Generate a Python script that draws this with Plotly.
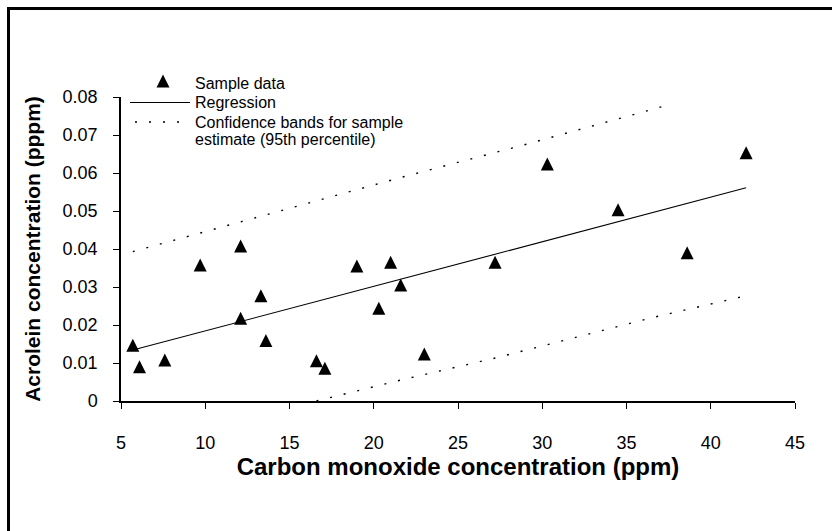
import plotly.graph_objects as go

# Measured acrolein vs. carbon monoxide concentrations
co_ppm = [5.7, 6.1, 7.6, 9.7, 12.1, 12.1, 13.3, 13.6, 16.6, 17.1,
          19.0, 20.3, 21.0, 21.6, 23.0, 27.2, 30.3, 34.5, 38.6, 42.1]
acrolein_ppm = [0.0147, 0.0090, 0.0108, 0.0358, 0.0408, 0.0218, 0.0277, 0.0159, 0.0106, 0.0086,
                0.0355, 0.0244, 0.0365, 0.0305, 0.0124, 0.0365, 0.0624, 0.0503, 0.0390, 0.0653]

# Fitted regression line
reg_x = [5.7, 42.1]
reg_y = [0.0134, 0.0561]

# 95th percentile confidence bands
upper_x = [5.7, 14.0, 21.6, 29.0, 37.3]
upper_y = [0.0393, 0.0494, 0.0588, 0.0675, 0.0777]
lower_x = [16.6, 21.6, 27.3, 32.0, 36.4, 42.1]
lower_y = [0.0, 0.0055, 0.0114, 0.0168, 0.0218, 0.0277]

x_ticks = [5, 10, 15, 20, 25, 30, 35, 40, 45]
y_ticks = [0, 0.01, 0.02, 0.03, 0.04, 0.05, 0.06, 0.07, 0.08]
y_tick_text = ["0", "0.01", "0.02", "0.03", "0.04", "0.05", "0.06", "0.07", "0.08"]

FONT = "Liberation Sans, Arial, Helvetica, sans-serif"
W, H = 832, 531
ML, MR, MT, MB = 121, 37, 97, 130
PW, PH = W - ML - MR, H - MT - MB


def px_x(p):
    return (p - ML) / PW


def px_y(p):
    return (H - MB - p) / PH


DOTS = "2px,12px"
MARKER_SIZE = 13

fig = go.Figure()
fig.add_trace(go.Scatter(x=upper_x, y=upper_y, mode="lines",
                         line=dict(color="black", width=1.4, dash=DOTS), hoverinfo="skip"))
fig.add_trace(go.Scatter(x=lower_x, y=lower_y, mode="lines",
                         line=dict(color="black", width=1.4, dash=DOTS), hoverinfo="skip"))
fig.add_trace(go.Scatter(x=reg_x, y=reg_y, mode="lines",
                         line=dict(color="black", width=1.1)))
# isosceles triangles: an arrow head flipped upright and centred on the point
fig.add_trace(go.Scatter(x=co_ppm, y=acrolein_ppm, mode="markers",
                         marker=dict(symbol="arrow-down", angle=180, standoff=MARKER_SIZE / 2,
                                     size=MARKER_SIZE, color="black", line=dict(width=0))))

shapes = [
    # frame: top and left rules
    dict(type="line", xref="paper", yref="paper", x0=px_x(7), x1=px_x(850),
         y0=px_y(8.5), y1=px_y(8.5), line=dict(color="black", width=3)),
    dict(type="line", xref="paper", yref="paper", x0=px_x(8.5), x1=px_x(8.5),
         y0=px_y(7), y1=px_y(550), line=dict(color="black", width=3)),
    # legend keys
    dict(type="path", xref="paper", yref="paper",
         path="M{:.5f},{:.5f} L{:.5f},{:.5f} L{:.5f},{:.5f} Z".format(
             px_x(156.5), px_y(87.5), px_x(169.5), px_y(87.5), px_x(163), px_y(74.5)),
         fillcolor="black", line=dict(width=0)),
    dict(type="line", xref="paper", yref="paper", x0=px_x(130), x1=px_x(190),
         y0=px_y(102.5), y1=px_y(102.5), line=dict(color="black", width=1.1)),
    dict(type="line", xref="paper", yref="paper", x0=px_x(135), x1=px_x(190),
         y0=px_y(122), y1=px_y(122), line=dict(color="black", width=1.4, dash=DOTS)),
]

legend_text = [("Sample data", 83), ("Regression", 102.5),
               ("Confidence bands for sample", 122), ("estimate (95th percentile)", 139)]
annotations = [
    dict(text=t, xref="paper", yref="paper", x=px_x(193), y=px_y(yy),
         xanchor="left", yanchor="middle", showarrow=False,
         font=dict(family=FONT, size=16, color="black"))
    for t, yy in legend_text
]

fig.update_layout(
    width=W, height=H, autosize=False,
    margin=dict(l=ML, r=MR, t=MT, b=MB),
    paper_bgcolor="white", plot_bgcolor="white",
    showlegend=False,
    font=dict(family=FONT, color="black"),
    shapes=shapes, annotations=annotations,
)
fig.update_xaxes(
    range=[5, 45], tickvals=x_ticks, showgrid=False, zeroline=False,
    showline=True, linecolor="black", linewidth=2,
    ticks="outside", ticklen=6, tickwidth=1, tickcolor="black",
    tickfont=dict(family=FONT, size=18), ticklabelstandoff=18,
    title=dict(text="Carbon monoxide concentration (ppm)", standoff=7,
               font=dict(family=FONT, size=24, weight="bold")),
)
fig.update_yaxes(
    range=[0, 0.08], tickvals=y_ticks, ticktext=y_tick_text, showgrid=False, zeroline=False,
    showline=True, linecolor="black", linewidth=1.5,
    ticks="outside", ticklen=6, tickwidth=1, tickcolor="black",
    tickfont=dict(family=FONT, size=18), ticklabelstandoff=12,
    title=dict(text="Acrolein concentration (pppm)", standoff=16,
               font=dict(family=FONT, size=21, weight="bold")),
)

fig.write_html("out.html")
